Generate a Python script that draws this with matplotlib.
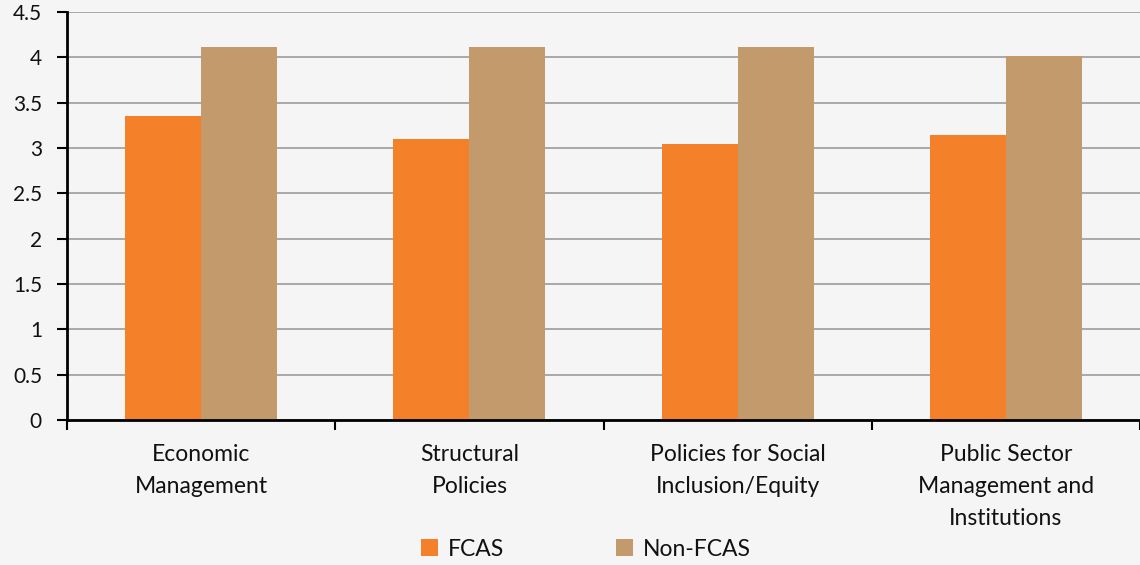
import matplotlib
matplotlib.use("Agg")
import matplotlib.pyplot as plt
import numpy as np
from matplotlib.patches import Patch

categories = ["Economic\nManagement", "Structural\nPolicies",
              "Policies for Social\nInclusion/Equity",
              "Public Sector\nManagement and\nInstitutions"]
fcas = [3.35, 3.10, 3.04, 3.14]
non_fcas = [4.11, 4.11, 4.11, 4.01]
series_names = ["FCAS", "Non-FCAS"]
yticks = [0, 0.5, 1, 1.5, 2, 2.5, 3, 3.5, 4, 4.5]
ytick_labels = ["0", "0.5", "1", "1.5", "2", "2.5", "3", "3.5", "4", "4.5"]

c_fcas = "#f5802a"
c_non = "#c29a6c"
bg = "#f5f5f5"

plt.rcParams['font.family'] = ['Lato', 'DejaVu Sans']

fig = plt.figure(figsize=(11.4, 5.65), dpi=100, facecolor=bg)
ax = fig.add_axes([67/1140, 1-420/565, 1-67/1140, (420-12)/565])
ax.set_facecolor(bg)

x = np.arange(len(categories))
w = 0.283
ax.bar(x - w/2, fcas, width=w, color=c_fcas, zorder=3)
ax.bar(x + w/2, non_fcas, width=w, color=c_non, zorder=3)

ax.set_ylim(0, 4.5)
ax.set_xlim(-0.5, -0.5 + 1073/269)
ax.set_yticks(yticks)
ax.set_yticklabels(ytick_labels, fontsize=15, color="#111111")
ax.yaxis.grid(True, color="#a3a3a3", linewidth=1.3, zorder=0)
ax.set_axisbelow(True)

ax.set_xticks(x)
ax.set_xticklabels(categories, fontsize=16.5, color="#111111", linespacing=1.65,
                   ha="center", va="top")
ax.set_xticks(np.arange(-0.5, len(categories), 1.0), minor=True)
ax.tick_params(axis="x", which="major", length=0, pad=17)
ax.tick_params(axis="x", which="minor", length=7, width=1.5, direction="out", color="black")
ax.tick_params(axis="y", length=7, width=1.5, direction="out", pad=11, color="black")

for s in ["top", "right"]:
    ax.spines[s].set_visible(False)
for s in ["left", "bottom"]:
    ax.spines[s].set_linewidth(2)
    ax.spines[s].set_color("black")
    ax.spines[s].set_zorder(4)

handles = [Patch(facecolor=c_fcas, edgecolor="none"), Patch(facecolor=c_non, edgecolor="none")]
fig.legend(handles, series_names, loc="center", bbox_to_anchor=(586/1140, 1-549/565),
           ncol=2, frameon=False, fontsize=16.5, handlelength=0.75, handleheight=0.75,
           handletextpad=0.45, columnspacing=4.85, labelcolor="#111111",
           borderpad=0.1)

fig.savefig("out.png", dpi=100, facecolor=bg)
